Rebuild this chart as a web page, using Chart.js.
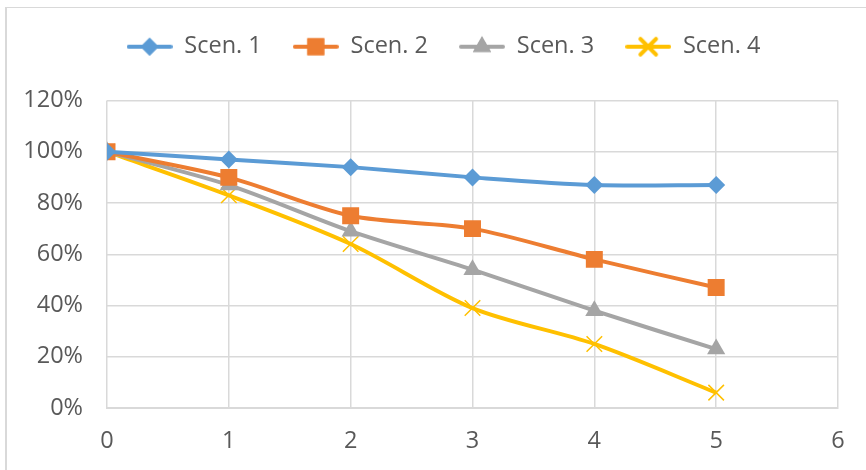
<!DOCTYPE html>
<html>
<head>
<meta charset="utf-8">
<script src="https://cdn.jsdelivr.net/npm/chart.js@4/dist/chart.umd.min.js"></script>
<style>
  html, body { margin: 0; padding: 0; background: #fff; }
  #wrap { position: relative; width: 866px; height: 470px; }
  #frame { position: absolute; left: 5px; top: 7px; right: 0; bottom: 0;
           border-top: 1px solid #d9d9d9; border-left: 2px solid #d9d9d9; }
  canvas { position: absolute; left: 0; top: 0; }
</style>
</head>
<body>
<div id="wrap">
  <div id="frame"></div>
  <canvas id="c" width="866" height="470"></canvas>
</div>
<script>
// Periods on the horizontal axis
const periods = [0, 1, 2, 3, 4, 5];

// Share remaining per scenario (%)
const scen1 = [100, 97, 94, 90, 87, 87];
const scen2 = [100, 90, 75, 70, 58, 47];
const scen3 = [100, 87, 69, 54, 38, 23];
const scen4 = [100, 83, 64, 39, 25, 6];

const seriesNames = ['Scen. 1', 'Scen. 2', 'Scen. 3', 'Scen. 4'];
const seriesColors = ['#5b9bd5', '#ed7d31', '#a5a5a5', '#ffc000'];
const seriesMarkers = ['rectRot', 'rect', 'triangle', 'crossRot'];
const markerRadius = [9, 12, 10.5, 11];

const FONT = "'Open Sans', 'Segoe UI', sans-serif";
const FONT_SIZE = 23.5;
const TEXT = '#595959';
const GRID = '#d9d9d9';

function toPoints(values) {
  return periods.map((x, i) => ({ x: x, y: values[i] }));
}

// Legend swatch: a short line with the series marker in the middle
function legendSwatch(color, marker, r) {
  const cv = document.createElement('canvas');
  cv.width = 46; cv.height = 24;
  const g = cv.getContext('2d');
  const cx = 23, cy = 12;
  g.strokeStyle = color;
  g.fillStyle = color;
  g.lineWidth = 4;
  g.lineCap = 'round';
  g.beginPath(); g.moveTo(2, cy); g.lineTo(44, cy); g.stroke();
  Chart.helpers.drawPoint(g, {
    pointStyle: marker, radius: r, rotation: 0,
    borderWidth: marker === 'crossRot' ? 1.5 : 0
  }, cx, cy);
  if (marker === 'crossRot') {
    g.lineWidth = 1.5;
    g.stroke();
  } else {
    g.fill();
  }
  return cv;
}

const allSeries = [scen1, scen2, scen3, scen4];
const datasets = allSeries.map((vals, i) => ({
  label: seriesNames[i],
  data: toPoints(vals),
  borderColor: seriesColors[i],
  backgroundColor: seriesColors[i],
  borderWidth: 4,
  tension: 0.3,
  pointStyle: seriesMarkers[i],
  pointRadius: markerRadius[i],
  pointBorderWidth: seriesMarkers[i] === 'crossRot' ? 1.5 : 0,
  pointBorderColor: seriesColors[i],
  pointBackgroundColor: seriesColors[i],
  pointHoverRadius: markerRadius[i]
}));

const swatches = seriesNames.map((n, i) => legendSwatch(seriesColors[i], seriesMarkers[i], markerRadius[i]));

// Extra room under the legend row, and the row centred over the plot
const legendPlacement = {
  id: 'legendPlacement',
  beforeInit(chart) {
    const fit = chart.legend.fit;
    chart.legend.fit = function () {
      fit.call(this);
      this.height += 32;
    };
  },
  afterLayout(chart) {
    chart.legend.left += 21;
    chart.legend.right += 21;
  }
};

new Chart(document.getElementById('c'), {
  type: 'line',
  data: { datasets: datasets },
  plugins: [legendPlacement],
  options: {
    responsive: false,
    animation: false,
    layout: { padding: { left: 7, right: 28, top: 4, bottom: 10 } },
    plugins: {
      tooltip: { enabled: false },
      legend: {
        position: 'top',
        labels: {
          usePointStyle: true,
          pointStyleWidth: 46,
          boxHeight: 24,
          padding: 31,
          color: TEXT,
          font: { family: FONT, size: FONT_SIZE },
          generateLabels: (chart) => chart.data.datasets.map((ds, i) => ({
            text: ds.label,
            pointStyle: swatches[i],
            fillStyle: ds.borderColor,
            strokeStyle: ds.borderColor,
            lineWidth: 0,
            fontColor: TEXT,
            datasetIndex: i,
            hidden: false
          }))
        }
      }
    },
    scales: {
      x: {
        type: 'linear',
        min: 0, max: 6,
        afterFit: (scale) => { scale.height = 52; },
        ticks: { stepSize: 1, color: TEXT, font: { family: FONT, size: FONT_SIZE }, padding: 19 },
        grid: { color: GRID, lineWidth: 1.5, drawTicks: false },
        border: { color: GRID, width: 2 }
      },
      y: {
        min: 0, max: 120,
        afterFit: (scale) => { scale.width = 100; },
        ticks: { stepSize: 20, color: TEXT, font: { family: FONT, size: FONT_SIZE }, padding: 24,
                 callback: (v) => v + '%' },
        grid: { color: GRID, lineWidth: 1.5, drawTicks: false },
        border: { display: false }
      }
    }
  }
});
</script>
</body>
</html>
